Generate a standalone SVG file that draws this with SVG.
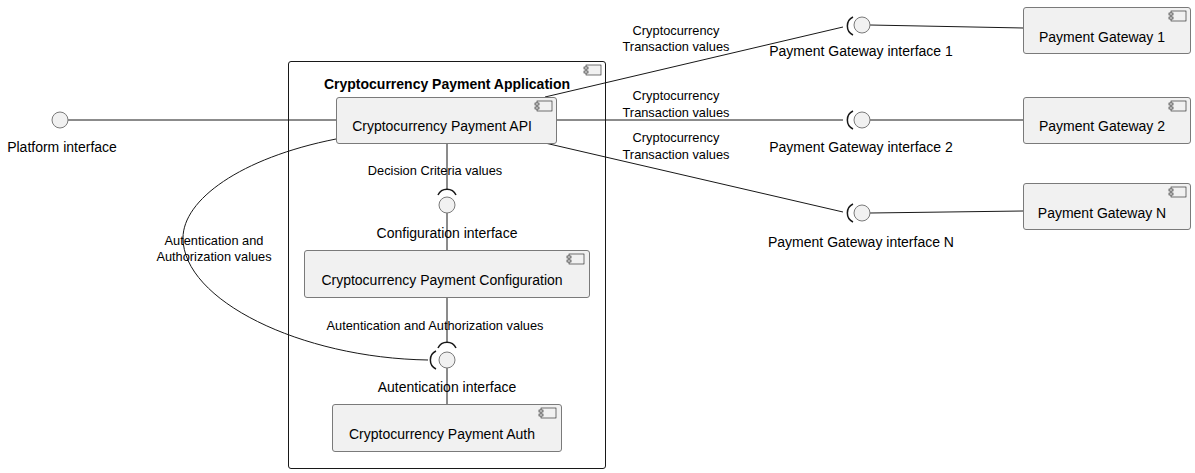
<svg xmlns="http://www.w3.org/2000/svg" width="1195" height="473" viewBox="0 0 1195 473">
<defs>
<style>
.box{fill:#F1F1F1;stroke:#7a7a7a;stroke-width:1}
.cont{fill:none;stroke:#181818;stroke-width:1}
.ic{fill:#F1F1F1;stroke:#181818;stroke-width:0.6}
.ln{fill:none;stroke:#181818;stroke-width:1}
.arc{fill:none;stroke:#181818;stroke-width:1.5}
.ifc{fill:#F1F1F1;stroke:#7a7a7a;stroke-width:1}
.t{font-family:"Liberation Sans",Arial,sans-serif;font-size:14px;fill:#000;text-anchor:middle}
.tb{font-family:"Liberation Sans",Arial,sans-serif;font-size:14px;font-weight:bold;fill:#000;text-anchor:middle}
.l{font-family:"Liberation Sans",Arial,sans-serif;font-size:12.8px;fill:#000;text-anchor:middle}
</style>
<g id="icon"><rect class="ic" x="0" y="0" width="15" height="10"/><rect class="ic" x="-2" y="2" width="4" height="2"/><rect class="ic" x="-2" y="6" width="4" height="2"/></g>
</defs>
<rect width="1195" height="473" fill="#fff"/>

<g id="connectors">
<line class="ln" x1="68" y1="120" x2="336" y2="120"/>
<line class="ln" x1="447" y1="143" x2="447" y2="190"/>
<line class="ln" x1="447" y1="213" x2="447" y2="250"/>
<line class="ln" x1="447" y1="297" x2="447" y2="343"/>
<line class="ln" x1="447" y1="368" x2="447" y2="404"/>
<path class="ln" d="M336,139 C240,158 183,200 183,238 C183,300 300,358 428,360"/>
<line class="ln" x1="545" y1="97" x2="843" y2="27"/>
<line class="ln" x1="557" y1="120" x2="843" y2="120"/>
<line class="ln" x1="545" y1="143" x2="843" y2="212"/>
<line class="ln" x1="870" y1="25" x2="1023" y2="28"/>
<line class="ln" x1="870" y1="120" x2="1023" y2="120"/>
<line class="ln" x1="870" y1="213" x2="1023" y2="211"/>
<text class="l" x="676" y="35">Cryptocurrency</text>
<text class="l" x="676" y="51">Transaction values</text>
<text class="l" x="676" y="100">Cryptocurrency</text>
<text class="l" x="676" y="117">Transaction values</text>
<text class="l" x="676" y="142">Cryptocurrency</text>
<text class="l" x="676" y="159">Transaction values</text>
<text class="l" x="435" y="175">Decision Criteria values</text>
<text class="l" x="435" y="330">Autentication and Authorization values</text>
<text class="l" x="214" y="245">Autentication and</text>
<text class="l" x="214" y="261">Authorization values</text>
</g>

<g id="app">
<rect class="cont" x="288.5" y="61.5" width="317" height="407" rx="2.5"/>
<use href="#icon" x="586" y="65"/>
<text class="tb" x="447" y="89">Cryptocurrency Payment Application</text>
</g>

<g id="api">
<rect class="box" x="336.5" y="97.5" width="220" height="46" rx="2.5"/>
<use href="#icon" x="537" y="101"/>
<text class="t" x="442" y="131">Cryptocurrency Payment API</text>
</g>

<g id="config">
<rect class="box" x="304.5" y="250.5" width="285" height="47" rx="2.5"/>
<use href="#icon" x="569" y="254"/>
<text class="t" x="442" y="285">Cryptocurrency Payment Configuration</text>
</g>

<g id="auth">
<rect class="box" x="332.5" y="404.5" width="229" height="47" rx="2.5"/>
<use href="#icon" x="541" y="408"/>
<text class="t" x="442" y="439">Cryptocurrency Payment Auth</text>
</g>

<g id="platform-interface">
<circle class="ifc" cx="60" cy="120" r="8"/>
<text class="t" x="62" y="152">Platform interface</text>
</g>

<g id="configuration-interface">
<path class="arc" d="M438,195 A10,10 0 0 1 456,195"/>
<circle class="ifc" cx="447" cy="205" r="8"/>
<text class="t" x="447" y="238">Configuration interface</text>
</g>

<g id="autentication-interface">
<path class="arc" d="M438,348 A10,10 0 0 1 456,348"/>
<path class="arc" d="M436,351 A10,10 0 0 0 436,369"/>
<circle class="ifc" cx="447" cy="360" r="8"/>
<text class="t" x="447" y="392">Autentication interface</text>
</g>

<g id="pg-interface-1">
<path class="arc" d="M853,17 A10,10 0 0 0 853,35"/>
<circle class="ifc" cx="862" cy="25" r="8"/>
<text class="t" x="861" y="56">Payment Gateway interface 1</text>
</g>

<g id="pg-interface-2">
<path class="arc" d="M853,111 A10,10 0 0 0 853,129"/>
<circle class="ifc" cx="862" cy="120" r="8"/>
<text class="t" x="861" y="152">Payment Gateway interface 2</text>
</g>

<g id="pg-interface-n">
<path class="arc" d="M853,204 A10,10 0 0 0 853,222"/>
<circle class="ifc" cx="862" cy="213" r="8"/>
<text class="t" x="861" y="247">Payment Gateway interface N</text>
</g>

<g id="pg1">
<rect class="box" x="1023.5" y="7.5" width="167" height="46" rx="2.5"/>
<use href="#icon" x="1171" y="11"/>
<text class="t" x="1102" y="42">Payment Gateway 1</text>
</g>

<g id="pg2">
<rect class="box" x="1023.5" y="97.5" width="167" height="46" rx="2.5"/>
<use href="#icon" x="1171" y="101"/>
<text class="t" x="1102" y="131">Payment Gateway 2</text>
</g>

<g id="pgn">
<rect class="box" x="1023.5" y="183.5" width="167" height="46" rx="2.5"/>
<use href="#icon" x="1171" y="187"/>
<text class="t" x="1102" y="218">Payment Gateway N</text>
</g>
</svg>
